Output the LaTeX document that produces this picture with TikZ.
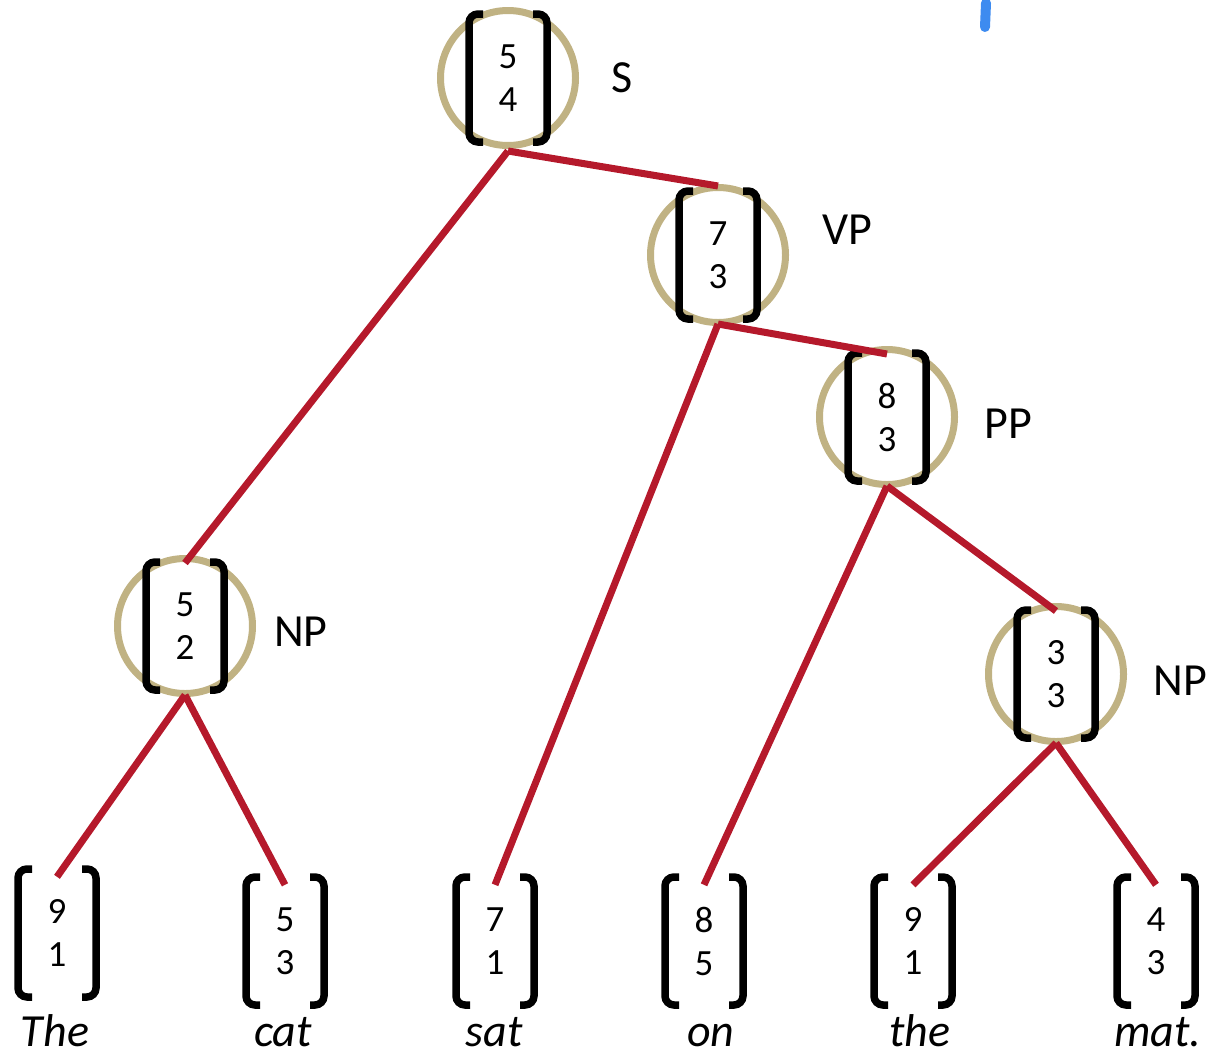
\documentclass[tikz,border=0pt]{standalone}
\usepackage{fontspec}
\setmainfont{Carlito}
\definecolor{ringtan}{HTML}{C0B283}
\definecolor{treered}{HTML}{B5192B}
\definecolor{markblue}{HTML}{3D8BF0}
\newcommand\treenumfont{\fontsize{37}{43}\selectfont}
\newcommand\treelblfont{\fontsize{46}{50}\selectfont}
\newcommand\bracketsat[1]{%
  \draw[brk] ([shift={(-25,-64)}]#1.center) -- ++(-14,0) -- ++(0,128) -- ++(14,0);
  \draw[brk] ([shift={(25,-64)}]#1.center) -- ++(14,0) -- ++(0,128) -- ++(-14,0);}
\begin{document}
\begin{tikzpicture}[x=1pt,y=-1pt,
  inner/.style={circle, draw=ringtan, line width=7pt, minimum size=135pt, inner sep=0pt, align=center, font=\treenumfont},
  leafbox/.style={rectangle, minimum width=80pt, minimum height=112pt, inner sep=0pt, align=center, font=\treenumfont},
  link/.style={draw=treered, line width=7pt},
  brk/.style={line width=7.5pt, rounded corners=9pt},
  lbl/.style={font=\treelblfont},
  word/.style={font=\treelblfont\itshape, anchor=base, inner sep=0pt}]
\useasboundingbox (0,0) rectangle (1209,1058);
% internal nodes
\node[inner] (S) at (508,78) {5\\4};
\node[inner] (VP) at (718,255) {7\\3};
\node[inner] (PP) at (887,417) {8\\3};
\node[inner] (NPa) at (185,626) {5\\2};
\node[inner] (NPb) at (1056,674) {3\\3};
% leaves
\node[leafbox] (L1) at (57,933) {9\\1};
\node[leafbox] (L2) at (285,941) {5\\3};
\node[leafbox] (L3) at (495,941) {7\\1};
\node[leafbox] (L4) at (704,941) {8\\5};
\node[leafbox] (L5) at (913,941) {9\\1};
\node[leafbox] (L6) at (1156,941) {4\\3};
% brackets
\bracketsat{S}\bracketsat{VP}\bracketsat{PP}\bracketsat{NPa}\bracketsat{NPb}
\bracketsat{L1}\bracketsat{L2}\bracketsat{L3}\bracketsat{L4}\bracketsat{L5}\bracketsat{L6}
% labels
\node[lbl] (lS) at (622,78) {S};
\node[lbl] (lVP) at (847,230) {VP};
\node[lbl] (lPP) at (1008,424) {PP};
\node[lbl] (lNPa) at (301,632) {NP};
\node[lbl] (lNPb) at (1180,681) {NP};
% words
\node[word] (w1) at (55,1046) {The};
\node[word] (w2) at (283,1046) {cat};
\node[word] (w3) at (494,1046) {sat};
\node[word] (w4) at (711,1046) {on};
\node[word] (w5) at (920,1046) {the};
\node[word] (w6) at (1158,1046) {mat.};
% connectors
\draw[link] ([yshift=-2pt]S.south) -- ([yshift=-2pt]VP.north);
\draw[link] ([yshift=-2pt]S.south) -- ([yshift=-8pt]NPa.north);
\draw[link] ([yshift=2pt]VP.south) -- ([yshift=-8pt]PP.north);
\draw[link] ([yshift=2pt]VP.south) -- (L3.north);
\draw[link] ([yshift=2pt]PP.south) -- (L4.north);
\draw[link] ([yshift=2pt]PP.south) -- ([yshift=-8pt]NPb.north);
\draw[link] ([yshift=2pt]NPa.south) -- (L1.north);
\draw[link] ([yshift=2pt]NPa.south) -- (L2.north);
\draw[link] ([yshift=2pt]NPb.south) -- (L5.north);
\draw[link] ([yshift=2pt]NPb.south) -- (L6.north);
% blue mark
\draw[markblue, line width=10pt, line cap=round] (986,3) -- (985,27);
\end{tikzpicture}
\end{document}
